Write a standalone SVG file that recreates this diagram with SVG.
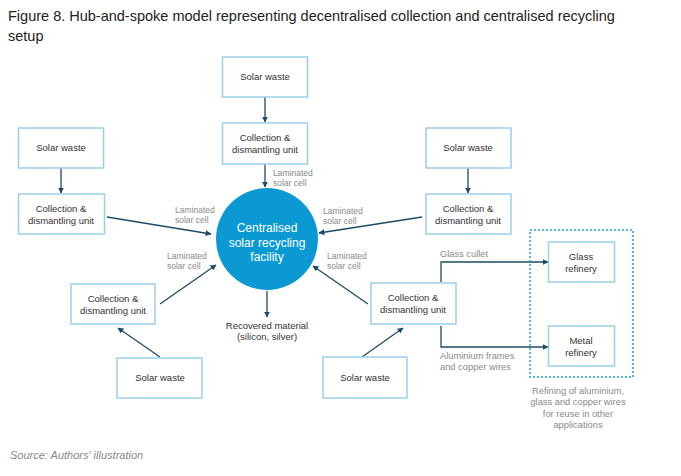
<svg xmlns="http://www.w3.org/2000/svg" width="681" height="476" viewBox="0 0 681 476">
<style>
.t{font-family:"Liberation Sans",Arial,sans-serif;}
.box{fill:#fff;stroke:#9ccfe9;stroke-width:1.5;}
.nt{font-family:"Liberation Sans",Arial,sans-serif;font-size:9.5px;fill:#333;text-anchor:middle;}
.lb{font-family:"Liberation Sans",Arial,sans-serif;font-size:8.5px;fill:#8a8a8a;}
.gl{font-family:"Liberation Sans",Arial,sans-serif;font-size:9.3px;fill:#8a8a8a;}
.ar{stroke:#1d4a63;stroke-width:1.3;fill:none;marker-end:url(#ah);}
</style>
<defs>
<marker id="ah" viewBox="0 0 10 10" refX="9" refY="5" markerWidth="6" markerHeight="6" orient="auto" markerUnits="userSpaceOnUse">
<path d="M0,0 L10,5 L0,10 z" fill="#1d4a63"/>
</marker>
</defs>
<rect width="681" height="476" fill="#fff"/>
<text class="t" x="8" y="21" font-size="14.5" fill="#222">Figure 8. Hub-and-spoke model representing decentralised collection and centralised recycling</text>
<text class="t" x="8" y="41" font-size="14.5" fill="#222">setup</text>

<g id="connectors">
<line class="ar" x1="265" y1="97" x2="265" y2="122"/>
<line class="ar" x1="265" y1="164" x2="265" y2="187"/>
<line class="ar" x1="61" y1="168" x2="61" y2="193"/>
<line class="ar" x1="107" y1="217" x2="211" y2="234"/>
<line class="ar" x1="468" y1="168" x2="468" y2="193"/>
<line class="ar" x1="422" y1="217" x2="319" y2="233"/>
<line class="ar" x1="160" y1="304" x2="216" y2="265"/>
<line class="ar" x1="160" y1="357" x2="118" y2="328"/>
<line class="ar" x1="368" y1="304" x2="313" y2="266"/>
<line class="ar" x1="362" y1="357" x2="403" y2="328"/>
<line class="ar" x1="267" y1="291" x2="267" y2="317"/>
<polyline class="ar" points="441,282 441,262 548,262"/>
<polyline class="ar" points="441,326 441,347 548,347"/>
</g>

<g id="labels">
<text class="lb" x="273" y="176">Laminated</text>
<text class="lb" x="273" y="186">solar cell</text>
<text class="lb" x="175" y="213">Laminated</text>
<text class="lb" x="175" y="223">solar cell</text>
<text class="lb" x="323" y="214">Laminated</text>
<text class="lb" x="323" y="224">solar cell</text>
<text class="lb" x="167" y="259">Laminated</text>
<text class="lb" x="167" y="269">solar cell</text>
<text class="lb" x="327" y="259">Laminated</text>
<text class="lb" x="327" y="269">solar cell</text>
<text class="gl" x="440" y="257">Glass cullet</text>
<text class="gl" x="440" y="359">Aluminium frames</text>
<text class="gl" x="440" y="370">and copper wires</text>
</g>

<g id="hub">
<circle cx="267" cy="239" r="51" fill="#0a99d3"/>
<text class="t" x="267" y="232" font-size="12" fill="#fff" text-anchor="middle">Centralised</text>
<text class="t" x="267" y="247" font-size="12" fill="#fff" text-anchor="middle">solar recycling</text>
<text class="t" x="267" y="261" font-size="12" fill="#fff" text-anchor="middle">facility</text>
</g>

<g id="recovered">
<text class="nt" x="267" y="329">Recovered material</text>
<text class="nt" x="267" y="340">(silicon, silver)</text>
</g>

<g id="sw-top"><rect class="box" x="222.5" y="57" width="85" height="40"/><text class="nt" x="265" y="80">Solar waste</text></g>
<g id="cu-top"><rect class="box" x="222.5" y="123" width="85" height="41"/><text class="nt" x="265" y="141">Collection &amp;</text><text class="nt" x="265" y="153">dismantling unit</text></g>

<g id="sw-left"><rect class="box" x="18.5" y="128" width="85" height="40"/><text class="nt" x="61" y="151">Solar waste</text></g>
<g id="cu-left"><rect class="box" x="18.5" y="194" width="86" height="40"/><text class="nt" x="61" y="212">Collection &amp;</text><text class="nt" x="61" y="224">dismantling unit</text></g>

<g id="sw-right"><rect class="box" x="426" y="128" width="85" height="40"/><text class="nt" x="468" y="151">Solar waste</text></g>
<g id="cu-right"><rect class="box" x="426" y="194" width="85" height="40"/><text class="nt" x="468" y="212">Collection &amp;</text><text class="nt" x="468" y="224">dismantling unit</text></g>

<g id="cu-ll"><rect class="box" x="71" y="284" width="84" height="40"/><text class="nt" x="113" y="302">Collection &amp;</text><text class="nt" x="113" y="314">dismantling unit</text></g>
<g id="sw-ll"><rect class="box" x="117" y="358" width="85" height="40"/><text class="nt" x="160" y="381">Solar waste</text></g>

<g id="cu-lr"><rect class="box" x="371" y="283" width="85" height="41"/><text class="nt" x="413" y="301">Collection &amp;</text><text class="nt" x="413" y="313">dismantling unit</text></g>
<g id="sw-lr"><rect class="box" x="323" y="357" width="84" height="41"/><text class="nt" x="365" y="381">Solar waste</text></g>

<g id="refining">
<rect x="530" y="230" width="103" height="147" fill="none" stroke="#1ea3dc" stroke-width="1.5" stroke-dasharray="2,2"/>
<text class="gl" x="578" y="394" text-anchor="middle">Refining of aluminium,</text>
<text class="gl" x="578" y="405" text-anchor="middle">glass and copper wires</text>
<text class="gl" x="578" y="417" text-anchor="middle">for reuse in other</text>
<text class="gl" x="578" y="428" text-anchor="middle">applications</text>
</g>
<g id="glass"><rect class="box" x="548.5" y="242" width="66" height="40"/><text class="nt" x="581" y="260">Glass</text><text class="nt" x="581" y="272">refinery</text></g>
<g id="metal"><rect class="box" x="548.5" y="326" width="66" height="40"/><text class="nt" x="581" y="344">Metal</text><text class="nt" x="581" y="356">refinery</text></g>

<text class="t" x="10" y="459" font-size="11" font-style="italic" fill="#888">Source: Authors' illustration</text>
</svg>
